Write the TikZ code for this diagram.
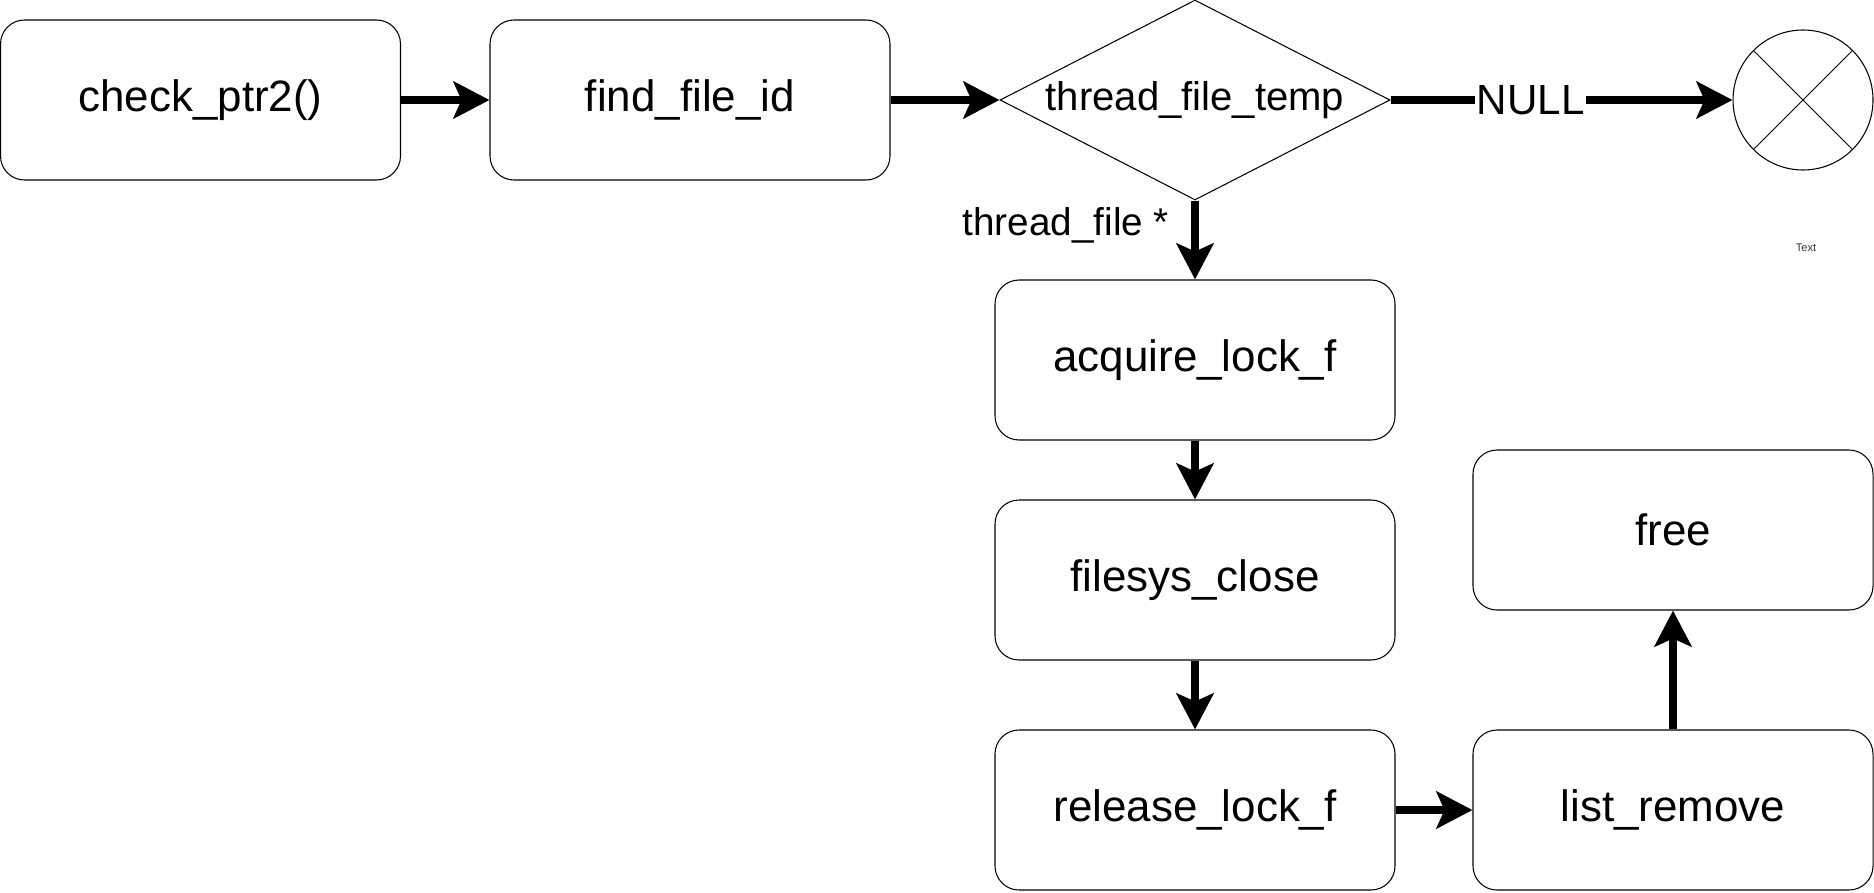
\documentclass[tikz,border=0pt]{standalone}
\usepackage{fontspec}
\setmainfont{Liberation Sans}
\usetikzlibrary{arrows.meta, positioning, shapes.geometric}
\definecolor{boxborder}{HTML}{000000}
\definecolor{flowline}{HTML}{000000}

\begin{document}
\begin{tikzpicture}[
    >={Stealth[length=0.72cm, width=0.74cm, inset=0.16cm]},
    font=\fontsize{25}{30}\selectfont,
    block/.style={draw=boxborder, rounded corners=0.48cm, line width=0.6pt, minimum width=8cm, minimum height=3.2cm, align=center},
    decision/.style={draw=boxborder, diamond, aspect=1.95, inner sep=0pt, line width=0.6pt, minimum width=7.8cm, minimum height=4cm, font=\fontsize{22.8}{27}\selectfont},
    flow/.style={->, flowline, line width=0.16cm},
    flowlabel/.style={font=\fontsize{22}{26}\selectfont, inner sep=1pt}
]
    \useasboundingbox (0, 0) rectangle (37.48, -17.84);

    % 1. Top row
    \node[block] (check) at (4.01, -2) {check\_ptr2()};
    \node[block] (findid) at (13.8, -2) {find\_file\_id};
    \node[decision] (temp) at (23.9, -2) {thread\_file\_temp};

    % 2. NULL exit
    \node[draw=boxborder, circle, line width=0.6pt, minimum size=2.8cm, inner sep=0pt] (nullend) at (36.06, -2) {};
    \draw[line width=0.5pt] (nullend.45) -- (nullend.225);
    \draw[line width=0.5pt] (nullend.135) -- (nullend.315);
    \node[font=\fontsize{6.3}{7.5}\selectfont, text=black!80] (textnote) at (36.12, -4.96) {Text};

    % 3. Close path
    \node[block] (acquire) at (23.9, -7.2) {acquire\_lock\_f};
    \node[block] (fsclose) at (23.9, -11.6) {filesys\_close};
    \node[block] (release) at (23.9, -16.2) {release\_lock\_f};
    \node[block] (listrm) at (33.46, -16.2) {list\_remove};
    \node[block] (free) at (33.46, -10.6) {free};

    % Connections
    \draw[flow] (check) -- (findid);
    \draw[flow] (findid) -- (temp);
    \draw[flow] (temp.east) -- (nullend) node[pos=0.41, fill=white, flowlabel, font=\fontsize{24}{28}\selectfont] {NULL};
    \draw[flow] (temp.south) -- (acquire) node[pos=0.31, left=0.44cm, flowlabel, inner sep=0pt] {thread\_file *};
    \draw[flow] (acquire) -- (fsclose);
    \draw[flow] (fsclose) -- (release);
    \draw[flow] (release) -- (listrm);
    \draw[flow] (listrm) -- (free);

\end{tikzpicture}
\end{document}
